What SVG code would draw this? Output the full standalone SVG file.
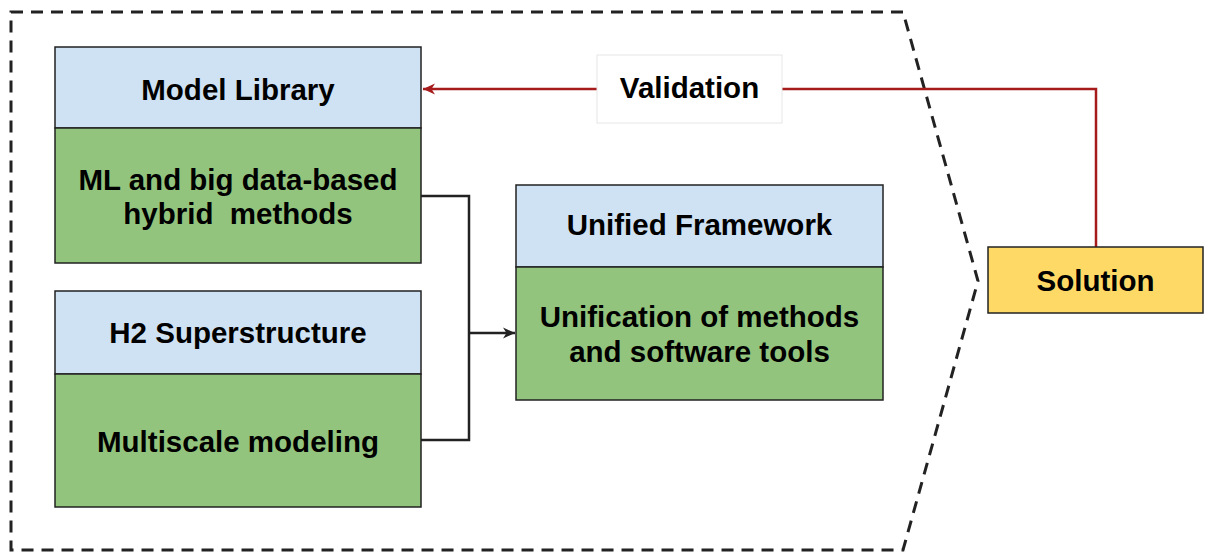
<svg xmlns="http://www.w3.org/2000/svg" width="1205" height="554" viewBox="0 0 1205 554">
  <defs>
    <style>
      .hdr { fill: #cfe2f3; stroke: #222; stroke-width: 1.5; }
      .body { fill: #93c47d; stroke: #222; stroke-width: 1.5; }
      .sol { fill: #ffd966; stroke: #222; stroke-width: 1.5; }
      .lbl { font-family: "Liberation Sans", Arial, sans-serif; font-weight: bold; font-size: 29.5px; fill: #000; text-anchor: middle; white-space: pre; }
      .conn { fill: none; stroke: #222; stroke-width: 2.5; }
      .red { fill: none; stroke: #a61c1c; stroke-width: 2.5; }
    </style>
    <marker id="arrBlack" viewBox="0 0 14 14" refX="13" refY="7" markerWidth="14" markerHeight="14" markerUnits="userSpaceOnUse" orient="auto">
      <path d="M1,1.5 L13,7 L1,12.5 L4.5,7 Z" fill="#222"/>
    </marker>
    <marker id="arrRed" viewBox="0 0 14 14" refX="13" refY="7" markerWidth="14" markerHeight="14" markerUnits="userSpaceOnUse" orient="auto">
      <path d="M1,1.5 L13,7 L1,12.5 L4.5,7 Z" fill="#a61c1c"/>
    </marker>
  </defs>

  <rect width="1205" height="554" fill="#fff"/>

  <!-- dashed boundary of the framework -->
  <path id="boundary" d="M11,12 L903,12 L978,281 L903,550 L11,550 Z" fill="none" stroke="#222" stroke-width="3" stroke-dasharray="12,8"/>

  <!-- connectors -->
  <g id="connectors">
    <path class="conn" d="M421,196 L469,196 L469,440 L421,440"/>
    <path class="conn" d="M469,333 L515,333" marker-end="url(#arrBlack)"/>
    <path class="red" d="M1096,247 L1096,89 L423,89" marker-end="url(#arrRed)"/>
  </g>

  <g id="validation">
    <rect x="597" y="55" width="185" height="68" fill="#fff" stroke="#e6e6e6" stroke-width="1"/>
    <text class="lbl" x="689.5" y="98">Validation</text>
  </g>

  <g id="model-library">
    <rect class="hdr" x="55" y="47" width="366" height="81"/>
    <rect class="body" x="55" y="128" width="366" height="135"/>
    <text class="lbl" x="238" y="100">Model Library</text>
    <text class="lbl" x="238" y="190">ML and big data-based</text>
    <text class="lbl" x="238" y="224">hybrid  methods</text>
  </g>

  <g id="h2-superstructure">
    <rect class="hdr" x="55" y="291" width="366" height="83"/>
    <rect class="body" x="55" y="374" width="366" height="133"/>
    <text class="lbl" x="238" y="343">H2 Superstructure</text>
    <text class="lbl" x="238" y="452">Multiscale modeling</text>
  </g>

  <g id="unified-framework">
    <rect class="hdr" x="516" y="185" width="367" height="82"/>
    <rect class="body" x="516" y="267" width="367" height="133"/>
    <text class="lbl" x="699.5" y="235">Unified Framework</text>
    <text class="lbl" x="699.5" y="327">Unification of methods</text>
    <text class="lbl" x="699.5" y="362">and software tools</text>
  </g>

  <g id="solution">
    <rect class="sol" x="988" y="247" width="215" height="66"/>
    <text class="lbl" x="1095.5" y="291">Solution</text>
  </g>
</svg>
